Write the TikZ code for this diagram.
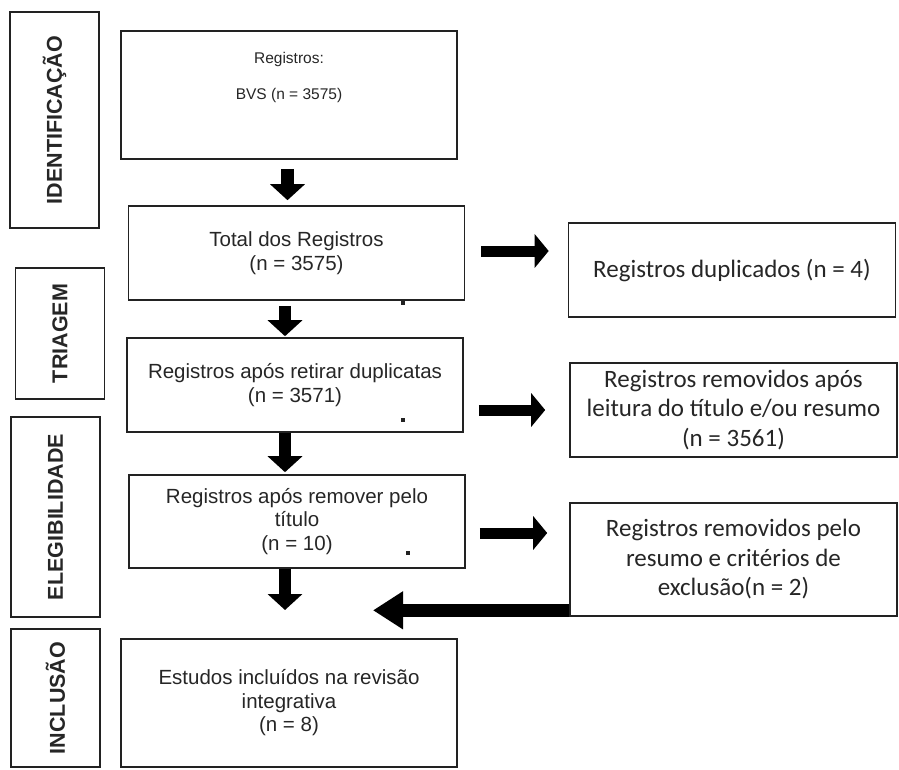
\documentclass[tikz,border=0pt]{standalone}
\usepackage{fontspec}
\setmainfont{Liberation Sans}
\newfontfamily\sidefont{Carlito}
\usetikzlibrary{arrows.meta,positioning,calc}
\definecolor{boxline}{RGB}{34,34,34}
\definecolor{boxtext}{RGB}{38,38,38}

\begin{document}
\begin{tikzpicture}[x=1pt,y=-1pt,
    box/.style={draw=boxline, line width=1.6pt, align=center, inner sep=0pt, text=boxtext},
    mainbox/.style={box, minimum width=336pt, font=\fontsize{20.5}{23.5}\selectfont},
    sidebox/.style={box, minimum width=327pt, font=\sidefont\fontsize{25}{29.5}\selectfont},
    phase/.style={box, rotate=90, minimum height=89pt, font=\bfseries\fontsize{21.5}{24}\selectfont},
    blk/.style={line width=12.5pt, -{Triangle[width=34pt,length=16pt]}},
    sideblk/.style={line width=11pt, -{Triangle[width=33pt,length=14pt]}}]
    \useasboundingbox (0,0) rectangle (899,769);

    % Phase labels
    \node[phase, minimum width=216pt] (idf) at (54.5,120) {IDENTIFICAÇÃO};
    \node[phase, minimum width=131pt] (tri) at (60,333.5) {TRIAGEM};
    \node[phase, minimum width=200pt] (ele) at (55.5,517) {ELEGIBILIDADE};
    \node[phase, minimum width=138pt] (inl) at (55.5,698) {INCLUSÃO};

    % Main flow
    \node[mainbox, minimum height=128pt] (reg) at (289,95) {};
    \node[font=\fontsize{15.5}{18}\selectfont, align=center, anchor=north, inner sep=0pt, text=boxtext] (regtxt) at ([yshift=-22pt]reg.north) {Registros:\\[18pt]BVS (n = 3575)};
    \node[mainbox, minimum height=94pt] (tot) at (296.5,253) {Total dos Registros\\(n = 3575)};
    \node[mainbox, minimum height=94pt] (dup) at (295,385) {Registros após retirar duplicatas\\(n = 3571)};
    \node[mainbox, minimum height=93pt] (tit) at (297,521.5) {Registros após remover pelo\\título\\(n = 10)};
    \node[mainbox, minimum height=128pt] (inc) at (289,703) {Estudos incluídos na revisão\\integrativa\\(n = 8)};

    % Exclusions
    \node[sidebox, minimum height=94pt] (ex1) at (732,270) {Registros duplicados (n = 4)};
    \node[sidebox, minimum height=94pt] (ex2) at (733.5,410) {Registros removidos após\\leitura do título e/ou resumo\\(n = 3561)};
    \node[sidebox, minimum height=113pt] (ex3) at (733.5,559.5) {Registros removidos pelo\\resumo e critérios de\\exclusão(n = 2)};

    \coordinate (jn) at (285,610);

    % Stray dots
    \fill[boxline] (401,301) rectangle ++(4,4);
    \fill[boxline] (401,418) rectangle ++(4,4);
    \fill[boxline] (406,551) rectangle ++(4,4);

    % Down arrows
    \draw[blk, shorten <=9pt, shorten >=5pt] ([xshift=-1.5pt]reg.south) -- ([xshift=-1.5pt]reg.south |- tot.north);
    \draw[blk, shorten <=5pt, shorten >=1pt] ([xshift=-11.5pt]tot.south) -- ([xshift=-11.5pt]tot.south |- dup.north);
    \draw[blk, shorten >=2pt] ([xshift=-10pt]dup.south) -- ([xshift=-10pt]dup.south |- tit.north);
    \draw[blk] ([xshift=-12pt]tit.south) -- (jn);

    % Side arrows
    \draw[sideblk, shorten <=16pt, shorten >=19pt] ([yshift=2pt]tot.east) -- ([yshift=2pt]tot.east -| ex1.west);
    \draw[sideblk, shorten <=15pt, shorten >=24pt] (dup.east |- ex2.west) -- (ex2.west);
    \draw[sideblk, shorten <=14pt, shorten >=22pt] ([yshift=-11.5pt]tit.east) -- ([yshift=-11.5pt]tit.east -| ex3.west);
    \draw[line width=13pt, -{Triangle[width=36pt,length=30pt]}, shorten >=88pt] ([yshift=6.5pt]ex3.south west) -- ([yshift=6.5pt]ex3.south west -| jn);
\end{tikzpicture}
\end{document}
